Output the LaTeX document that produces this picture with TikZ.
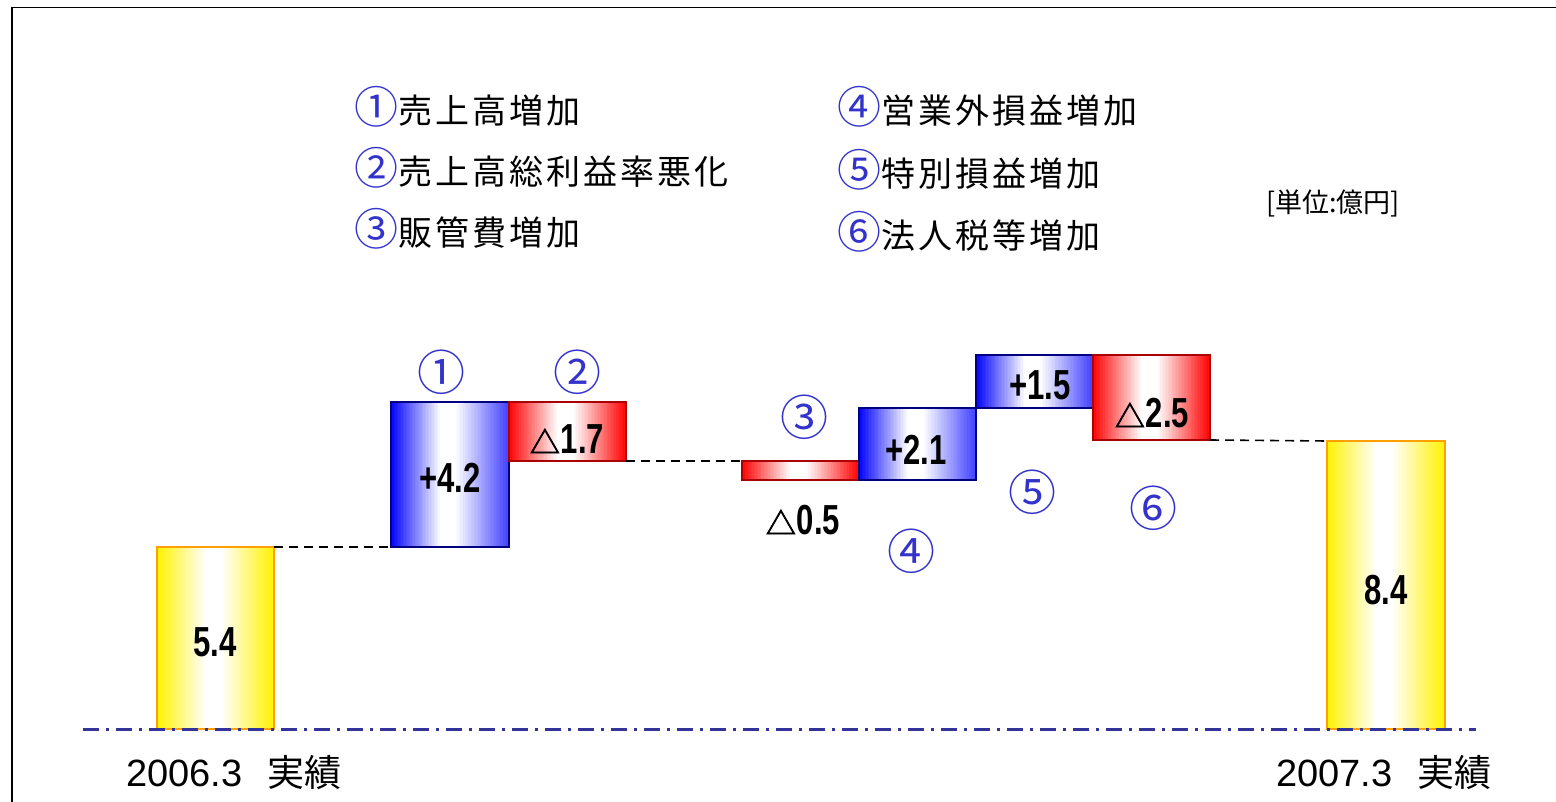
\documentclass[tikz,border=0pt]{standalone}
\usepackage{fontspec}
\usepackage{graphicx}
\setmainfont{Noto Sans CJK JP}
\newfontfamily\latinfont{Liberation Sans}
\newfontfamily\cjkfont{Noto Sans CJK JP}
\newfontfamily\trifont{Noto Sans CJK JP}[FakeBold=2.5]
\newfontfamily\legfont{Noto Sans CJK JP}[LetterSpace=9]
\definecolor{cblue}{RGB}{51,51,204}
\definecolor{lineblue}{RGB}{51,51,153}
\definecolor{barorange}{RGB}{255,160,0}
\definecolor{bardblue}{RGB}{0,0,128}
\definecolor{bardred}{RGB}{170,0,0}
\newcommand\vl[1]{\scalebox{0.74}[1]{\fontsize{42}{42}\selectfont\latinfont\bfseries #1}}
\newcommand\tri{{\fontsize{30}{30}\selectfont\trifont △}\hspace{1pt}}
\newcommand\lc[1]{{\fontsize{44}{44}\selectfont\cjkfont\textcolor{cblue}{#1}}}
% gradient bar: name, x, y, w, h, colour, right strength, border colour
\newcommand\gbar[8]{%
  \foreach \i in {0,...,79}{%
    \pgfmathsetmacro\t{(\i+0.5)/80}%
    \pgfmathsetmacro\p{\t<0.42 ? 100*(1-\t/0.42) : (\t<0.55 ? 0 : #7*(\t-0.55)/0.45)}%
    \fill[#6!\p!white] ({#2+\i*#4/80},#3) rectangle ({#2+(\i+1)*#4/80+0.5},#3+#5);
  }%
  \node[barbase, draw=#8, minimum width=#4pt, minimum height=#5pt] (#1) at (#2,#3) {};
}
\begin{document}
\begin{tikzpicture}[x=1pt,y=-1pt,
  barbase/.style={rectangle, inner sep=0pt, outer sep=0pt, anchor=north west, line width=1.3pt},
  circ/.style={text=cblue, font=\fontsize{48}{48}\selectfont, inner sep=0pt},
  val/.style={inner sep=0pt, text=black},
  leg/.style={anchor=west, inner sep=0pt, font=\fontsize{34}{38}\selectfont\legfont},
  guide/.style={dash pattern=on 9pt off 6pt, line width=1.6pt, black},
  base/.style={lineblue, line width=3pt, dash pattern=on 16pt off 7pt on 3pt off 7pt},
  frame/.style={line width=1.6pt, black},
  ylab/.style={anchor=west, inner sep=0pt, font=\fontsize{37}{40}\selectfont}
]
\useasboundingbox (0,0) rectangle (1556,802);
% frame
\coordinate (fbl) at (12,802);
\coordinate (ftl) at (12,7.5);
\coordinate (ftr) at (1556,7.5);
\draw[frame] (fbl) -- (ftl) -- (ftr);

% legend
\node[leg] (l1) at (354,107) {\lc{①}売上高増加};
\node[leg] (l2) at (354,168) {\lc{②}売上高総利益率悪化};
\node[leg] (l3) at (354,229) {\lc{③}販管費増加};
\node[leg] (l4) at (837,107) {\lc{④}営業外損益増加};
\node[leg] (l5) at (837,170) {\lc{⑤}特別損益増加};
\node[leg] (l6) at (837,232) {\lc{⑥}法人税等増加};
\node[anchor=west, inner sep=0pt, font=\fontsize{27}{30}\selectfont] (unit) at (1266,203) {[単位:億円]};

% bars
\gbar{b0}{157}{547}{117}{182}{yellow}{100}{barorange}
\gbar{b1}{391}{402}{118}{145}{blue}{75}{bardblue}
\gbar{b2}{509}{402}{117}{59}{red}{100}{bardred}
\gbar{b3}{742}{461}{117}{19}{red}{100}{bardred}
\gbar{b4}{859}{408}{117}{72}{blue}{75}{bardblue}
\gbar{b5}{976}{355}{117}{53}{blue}{75}{bardblue}
\gbar{b6}{1093}{355}{117}{85}{red}{100}{bardred}
\gbar{b7}{1327}{441}{118}{288}{yellow}{100}{barorange}

% guide lines
\draw[guide] (b0.north east) -- (b1.south west);
\draw[guide] (b2.south east) -- (b3.north west);
\draw[guide] (b6.south east) -- (b7.north west);

% baseline
\coordinate (bl) at (83,729);
\coordinate (br) at (1476,729);
\draw[base] (bl) -- (br);

% values
\node[val] (v0) at (215,642) {\vl{5.4}};
\node[val] (v1) at (450,478) {\vl{+4.2}};
\node[val] (v2) at (567,439) {\tri\vl{1.7}};
\node[val] (v3) at (803,520) {\tri\vl{0.5}};
\node[val] (v4) at (916,450) {\vl{+2.1}};
\node[val] (v5) at (1040,385) {\vl{+1.5}};
\node[val] (v6) at (1152,413) {\tri\vl{2.5}};
\node[val] (v7) at (1386,590) {\vl{8.4}};

% circled markers
\node[circ] (c1) at (441,372) {①};
\node[circ] (c2) at (577,372) {②};
\node[circ] (c3) at (804,417) {③};
\node[circ] (c4) at (911,551) {④};
\node[circ] (c5) at (1032,492) {⑤};
\node[circ] (c6) at (1153,508) {⑥};

% bottom labels
\node[ylab] (y1) at (126,773) {{\fontsize{38}{40}\selectfont\latinfont 2006.3}\hspace{25pt}実績};
\node[ylab] (y2) at (1276,773) {{\fontsize{38}{40}\selectfont\latinfont 2007.3}\hspace{25pt}実績};
\end{tikzpicture}
\end{document}
